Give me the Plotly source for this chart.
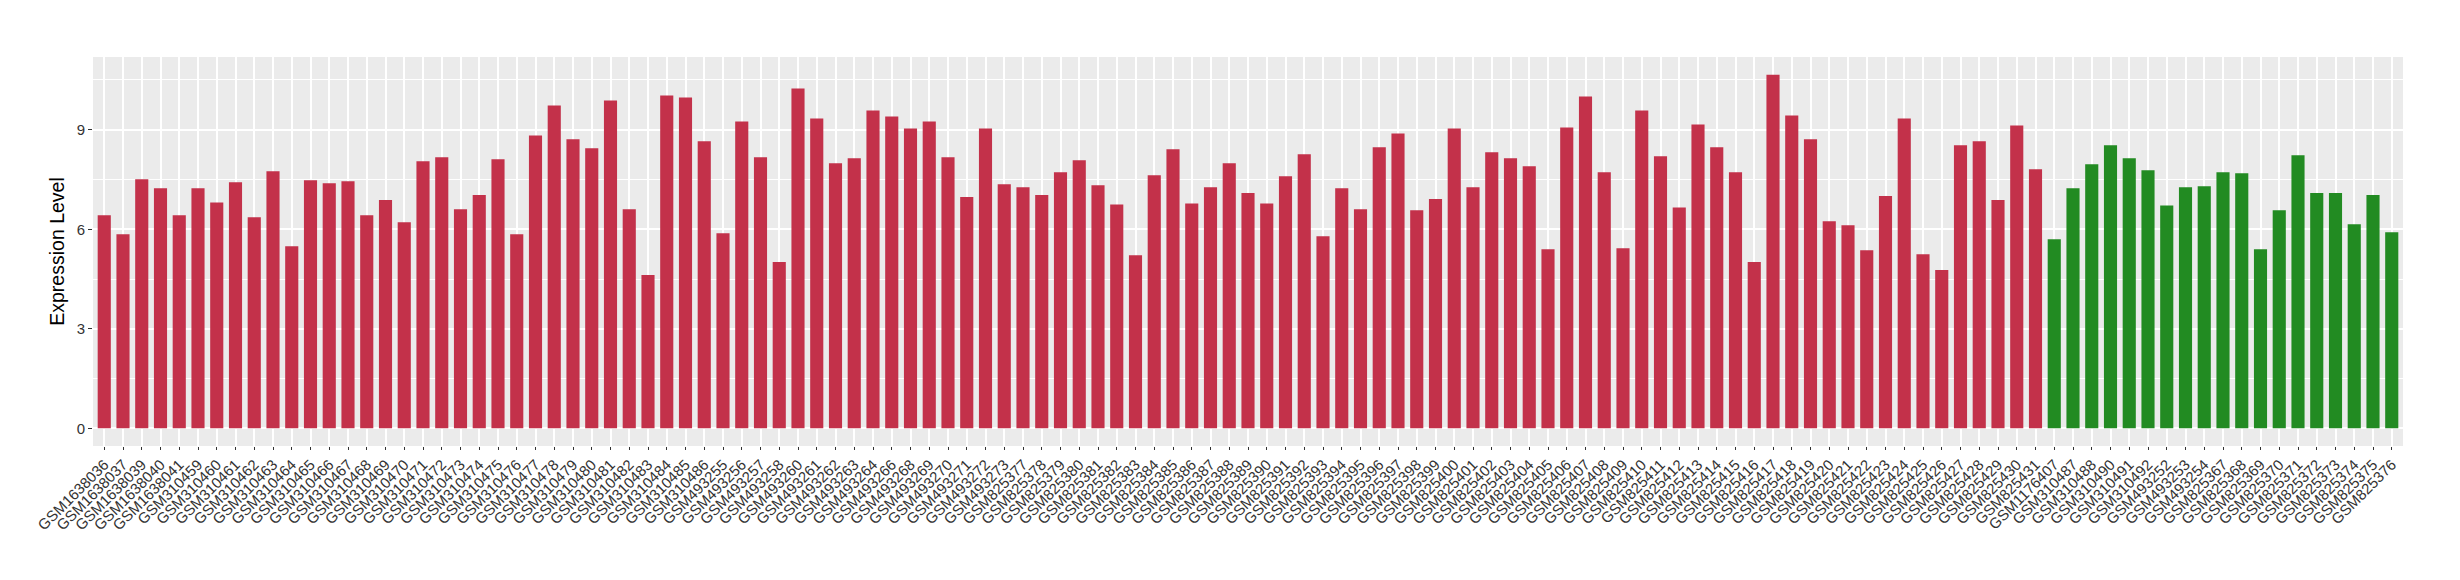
import plotly.graph_objects as go

# --- data ---
tumor_samples = (
    ["GSM1638036", "GSM1638037", "GSM1638039", "GSM1638040", "GSM1638041"]
    + ["GSM%d" % n for n in range(310459, 310487)]
    + ["GSM493255", "GSM493256", "GSM493257", "GSM493258", "GSM493260", "GSM493261",
       "GSM493262", "GSM493263", "GSM493264", "GSM493266", "GSM493268", "GSM493269",
       "GSM493270", "GSM493271", "GSM493272", "GSM493273"]
    + ["GSM%d" % n for n in range(825377, 825432)]
)
tumor_values = [
    6.42, 5.85, 7.51, 7.24, 6.42, 7.24, 6.81, 7.42, 6.36, 7.75,
    5.49, 7.48, 7.39, 7.45, 6.42, 6.88, 6.21, 8.05, 8.17, 6.60,
    7.03, 8.11, 5.85, 8.83, 9.73, 8.71, 8.44, 9.88, 6.60, 4.62,
    10.03, 9.97, 8.65, 5.88, 9.25, 8.17, 5.01, 10.24, 9.34, 7.99,
    8.14, 9.58, 9.40, 9.04, 9.25, 8.17, 6.97, 9.04, 7.36, 7.27,
    7.03, 7.72, 8.08, 7.33, 6.75, 5.22, 7.63, 8.41, 6.78, 7.27,
    7.99, 7.09, 6.78, 7.60, 8.26, 5.79, 7.24, 6.60, 8.47, 8.89,
    6.57, 6.91, 9.04, 7.27, 8.32, 8.14, 7.90, 5.40, 9.07, 10.00,
    7.72, 5.43, 9.58, 8.20, 6.66, 9.16, 8.47, 7.72, 5.01, 10.66,
    9.43, 8.71, 6.24, 6.12, 5.37, 7.00, 9.34, 5.25, 4.77, 8.53,
    8.65, 6.88, 9.13, 7.81,
]
normal_samples = (
    ["GSM1176407", "GSM310487", "GSM310488", "GSM310490", "GSM310491", "GSM310492",
     "GSM493252", "GSM493253", "GSM493254"]
    + ["GSM%d" % n for n in range(825367, 825377)]
)
normal_values = [
    5.70, 7.24, 7.96, 8.53, 8.14, 7.78, 6.72, 7.27, 7.30, 7.72,
    7.69, 5.40, 6.57, 8.23, 7.09, 7.09, 6.15, 7.03, 5.91,
]
y_ticks = [0, 3, 6, 9]

tumor_color = "#C3314A"
normal_color = "#228B22"

samples = tumor_samples + normal_samples
values = tumor_values + normal_values
colors = [tumor_color] * len(tumor_samples) + [normal_color] * len(normal_samples)

fig = go.Figure(
    go.Bar(
        x=samples,
        y=values,
        marker=dict(color=colors, line=dict(width=0)),
        showlegend=False,
        hoverinfo="skip",
    )
)

n = len(samples)
ymax = max(values)
pad = 0.05 * ymax

fig.update_layout(
    width=2460,
    height=580,
    margin=dict(l=93, r=57, t=57, b=134, autoexpand=False),
    paper_bgcolor="white",
    plot_bgcolor="#EBEBEB",
    bargap=0.3,
    font=dict(family="Liberation Sans, Arial, sans-serif", color="#3A3A3A"),
    xaxis=dict(
        type="category",
        categoryorder="array",
        categoryarray=samples,
        range=[-0.6, n - 1 + 0.6],
        tickangle=-45,
        tickfont=dict(size=15, color="#333333"),
        ticks="outside",
        ticklen=3,
        tickwidth=1,
        tickcolor="#333333",
        showgrid=True,
        gridcolor="white",
        gridwidth=2,
        zeroline=False,
        showline=False,
        automargin=False,
    ),
    yaxis=dict(
        range=[-pad, ymax + pad],
        tickvals=y_ticks,
        ticktext=[str(t) for t in y_ticks],
        tickfont=dict(size=15, color="#333333"),
        ticks="outside",
        ticklen=4,
        tickwidth=1,
        tickcolor="#333333",
        showgrid=True,
        gridcolor="white",
        gridwidth=2,
        zeroline=False,
        showline=False,
        automargin=False,
        minor=dict(dtick=1.5, tick0=0, showgrid=True, gridcolor="white", gridwidth=1, ticks=""),
        title=dict(text="Expression Level", font=dict(size=19.5, color="#000000"), standoff=6),
    ),
)

fig.write_html(
    "out.html",
    config={"displayModeBar": False, "staticPlot": True},
    post_script="document.body.style.margin='0';document.body.style.overflow='hidden';",
)
